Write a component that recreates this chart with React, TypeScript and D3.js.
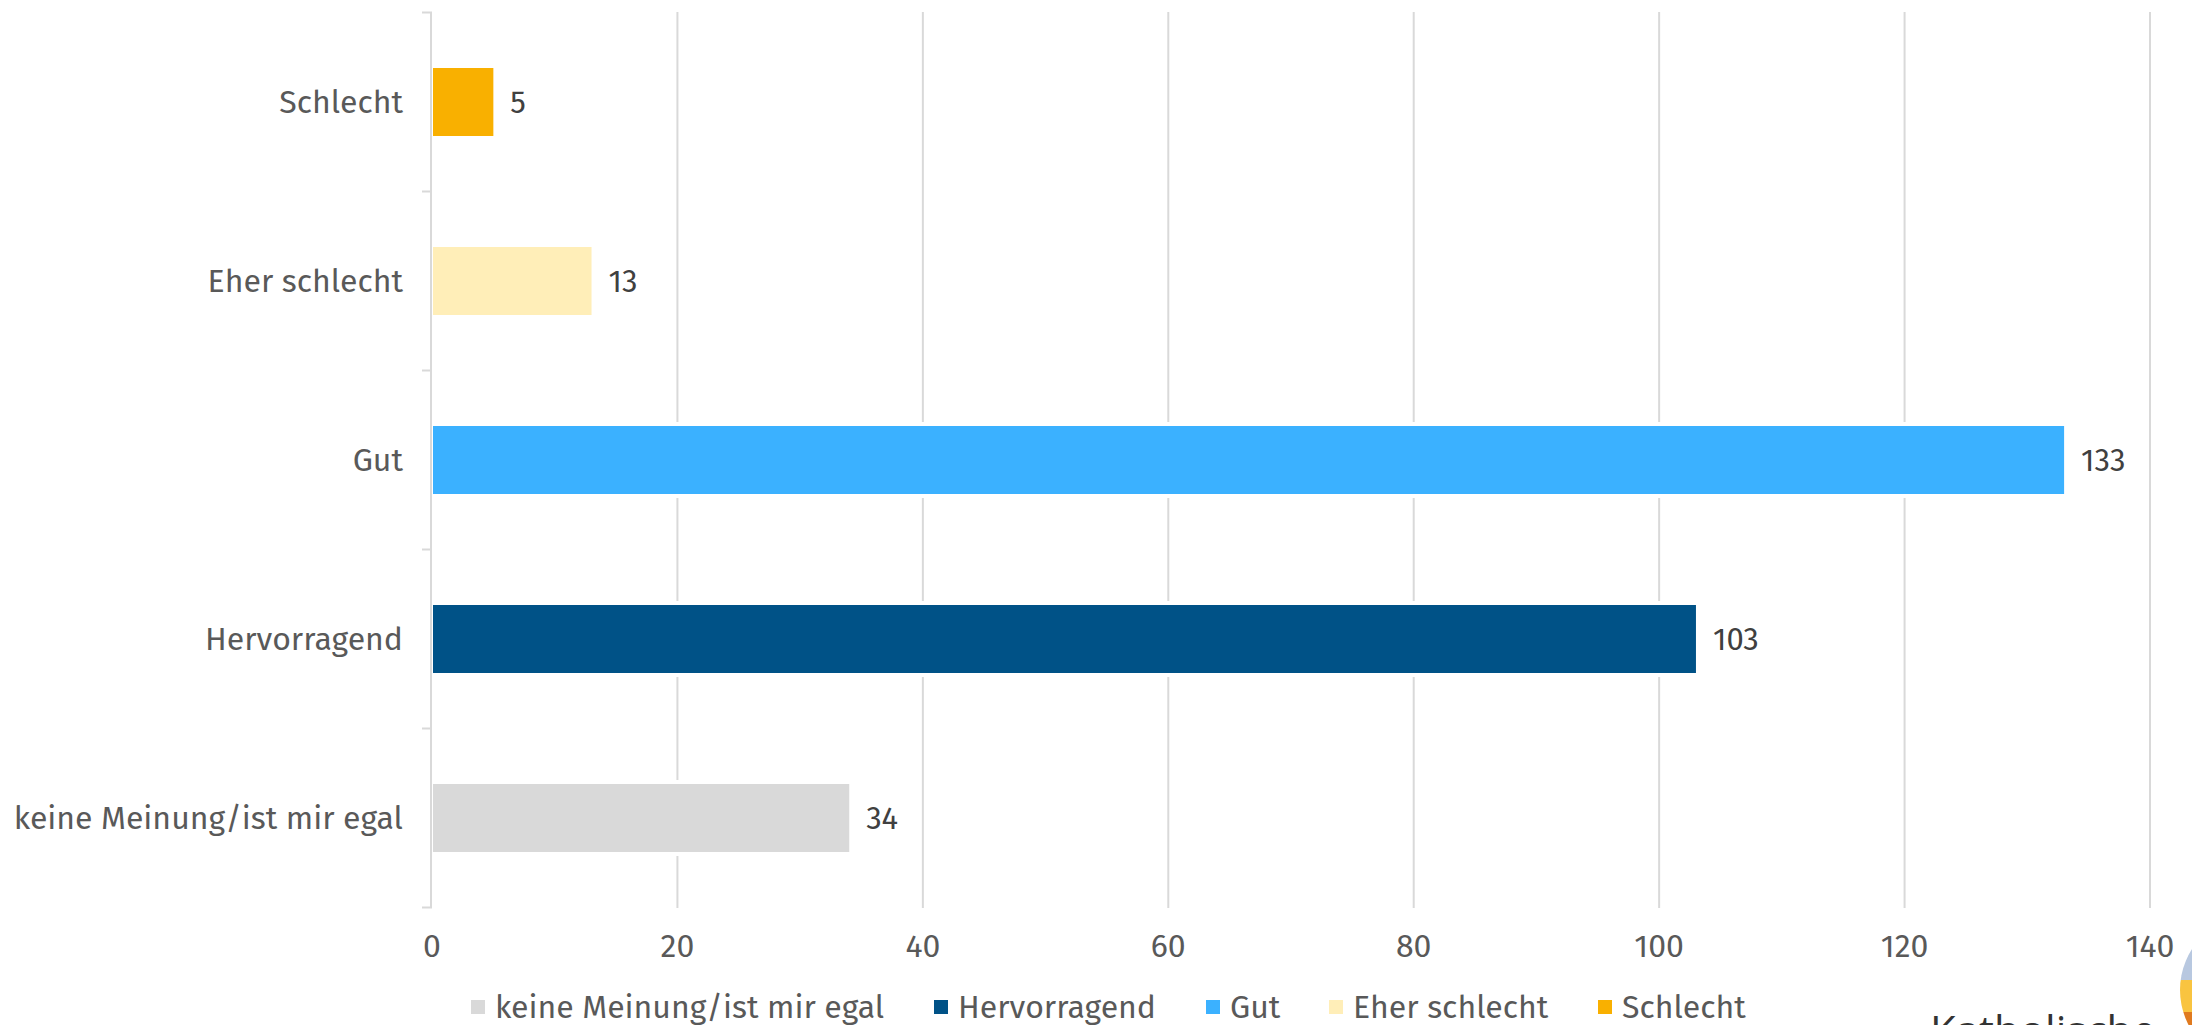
import React from "react";
import * as d3 from "d3";

const categories = ["Schlecht", "Eher schlecht", "Gut", "Hervorragend", "keine Meinung/ist mir egal"];
const values = [5, 13, 133, 103, 34];
const colors = ["#F9B000", "#FFEEB8", "#3BB1FF", "#005287", "#D9D9D9"];
const legendOrder = ["keine Meinung/ist mir egal", "Hervorragend", "Gut", "Eher schlecht", "Schlecht"];
const xTicks = [0, 20, 40, 60, 80, 100, 120, 140];

const W = 2192;
const H = 1025;
const FONT = "'Fira Sans', 'Open Sans', 'Noto Sans', sans-serif";
const FS = 32;

export default function App() {
  const x = d3.scaleLinear().domain([0, 140]).range([432, 2150]);
  const y = d3.scaleBand<string>().domain(categories).range([12.5, 907.5]).paddingInner(0).paddingOuter(0);
  const barH = 68;
  const colorOf = (c: string) => colors[categories.indexOf(c)];
  const legendX = [471, 934, 1206, 1329, 1598];

  return (
    <div style={{ position: "absolute", left: 0, top: 0, width: W, height: H, overflow: "hidden", background: "#fff" }}>
      <svg width={W} height={H} style={{ display: "block" }} fontFamily={FONT}>
        {/* gridlines */}
        {xTicks.filter((t) => t > 0).map((t) => (
          <line key={"g" + t} x1={x(t)} x2={x(t)} y1={12} y2={908} stroke="#D9D9D9" strokeWidth={2} />
        ))}
        {/* bar white halos */}
        {categories.map((c, i) => {
          const cy = (y(c) as number) + y.bandwidth() / 2;
          return (
            <rect key={"h" + c} x={x(0)} y={cy - barH / 2 - 4} width={x(values[i]) - x(0) + 4} height={barH + 8} fill="#fff" />
          );
        })}
        {/* bars */}
        {categories.map((c, i) => {
          const cy = (y(c) as number) + y.bandwidth() / 2;
          return (
            <rect key={"b" + c} x={x(0) + 1} y={cy - barH / 2} width={x(values[i]) - x(0) - 1} height={barH} fill={colors[i]} />
          );
        })}
        {/* y axis */}
        <line x1={x(0) - 1} x2={x(0) - 1} y1={12} y2={908} stroke="#D9D9D9" strokeWidth={2} />
        {d3.range(categories.length + 1).map((k) => {
          const yy = 12.5 + k * y.step();
          return <line key={"t" + k} x1={x(0) - 10} x2={x(0)} y1={yy} y2={yy} stroke="#D9D9D9" strokeWidth={2} />;
        })}
        {/* category labels */}
        {categories.map((c) => {
          const cy = (y(c) as number) + y.bandwidth() / 2;
          return (
            <text key={"l" + c} x={403} y={cy} textAnchor="end" dominantBaseline="central" fontSize={FS} fill="#595959">
              {c}
            </text>
          );
        })}
        {/* value labels */}
        {categories.map((c, i) => {
          const cy = (y(c) as number) + y.bandwidth() / 2;
          return (
            <text key={"v" + c} x={x(values[i]) + 17} y={cy} dominantBaseline="central" fontSize={FS - 1} fill="#404040">
              {values[i]}
            </text>
          );
        })}
        {/* x tick labels */}
        {xTicks.map((t) => (
          <text key={"x" + t} x={x(t)} y={946} textAnchor="middle" dominantBaseline="central" fontSize={FS} fill="#595959">
            {t}
          </text>
        ))}
        {/* legend */}
        {legendOrder.map((c, i) => (
          <g key={"lg" + c} transform={`translate(${legendX[i]},1007)`}>
            <rect x={0} y={-7} width={14} height={14} fill={colorOf(c)} />
            <text x={24} y={0} dominantBaseline="central" fontSize={FS} fill="#595959">
              {c}
            </text>
          </g>
        ))}
        {/* partial logo bottom right (cut off at the edge, as in the source) */}
        <text x={1930} y={1046} fontSize={42} fill="#333" fontFamily="'Open Sans', sans-serif">Katholische</text>
        <clipPath id="logoClip">
          <circle cx={2256} cy={990} r={76} />
        </clipPath>
        <g clipPath="url(#logoClip)">
          <rect x={2170} y={900} width={100} height={80} fill="#B8C8E0" />
          <rect x={2170} y={980} width={100} height={32} fill="#F9C440" />
          <rect x={2170} y={1012} width={100} height={30} fill="#E07A1F" />
        </g>
      </svg>
    </div>
  );
}
